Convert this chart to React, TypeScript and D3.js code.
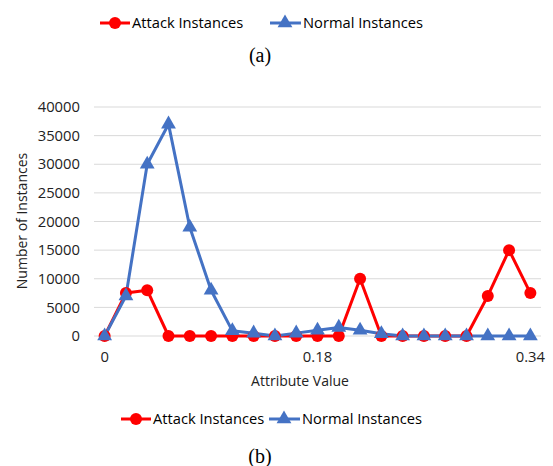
import React from "react";
import * as d3 from "d3";

const W = 553;
const H = 466;

// 21 bins on the attribute axis; only three of them carry a label
const bins = d3.range(21);
const tickIdx = [0, 10, 20];
const tickLabels = ["0", "0.18", "0.34"];

const attack = [0, 7500, 8000, 0, 0, 0, 0, 0, 0, 0, 0, 0, 10000, 0, 0, 0, 0, 0, 7000, 15000, 7500];
const normal = [0, 7000, 30000, 37000, 19000, 8000, 900, 500, 0, 500, 1000, 1500, 1000, 400, 0, 0, 0, 0, 0, 0, 0];

const yTicks = [0, 5000, 10000, 15000, 20000, 25000, 30000, 35000, 40000];

const RED = "#FF0000";
const BLUE = "#4472C4";
const FONT = "'Open Sans', sans-serif";
const SERIF = "'Liberation Serif', serif";
const TEXT = "#222";

const margin = { left: 94, right: 12, top: 107, bottom: 130 };

const triangle = d3.symbol(d3.symbolTriangle, 95)()!;

const Legend = ({ x, y, gap }: { x: number; y: number; gap: number }) => (
  <g transform={`translate(${x},${y})`} fontFamily={FONT} fontSize={14.7} fill="#000">
    <line x1={0} x2={30} y1={0} y2={0} stroke={RED} strokeWidth={3} />
    <circle cx={15} cy={0} r={6} fill={RED} />
    <text x={32} dy="0.35em">Attack Instances</text>
    <g transform={`translate(${gap},0)`}>
      <line x1={0} x2={31} y1={0} y2={0} stroke={BLUE} strokeWidth={3} />
      <path d={triangle} transform="translate(15,0)" fill={BLUE} />
      <text x={33} dy="0.35em">Normal Instances</text>
    </g>
  </g>
);

export default function App() {
  const x = d3
    .scalePoint<number>()
    .domain(bins)
    .range([margin.left, W - margin.right])
    .padding(0.5);
  const y = d3
    .scaleLinear()
    .domain([0, 40000])
    .range([H - margin.bottom, margin.top]);

  const line = d3
    .line<number>()
    .x((_, i) => x(i)!)
    .y((d) => y(d));

  return (
    <svg
      width={W}
      height={H}
      style={{ position: "absolute", left: 0, top: 0, background: "#fff" }}
    >
      <Legend x={100} y={23} gap={170} />
      <text x={260} y={55} dy="0.35em" textAnchor="middle" fontFamily={SERIF} fontSize={20}>
        (a)
      </text>

      <g>
        {yTicks.map((t) => (
          <line
            key={t}
            x1={margin.left}
            x2={W - margin.right}
            y1={y(t)}
            y2={y(t)}
            stroke="#D9D9D9"
            strokeWidth={1}
          />
        ))}
      </g>
      <g fontFamily={FONT} fontSize={14.8} fill={TEXT}>
        {yTicks.map((t) => (
          <text key={t} x={80} y={y(t)} dy="0.35em" textAnchor="end">
            {t}
          </text>
        ))}
        {tickIdx.map((i, k) => (
          <text key={i} x={x(i)} y={357} dy="0.35em" textAnchor="middle">
            {tickLabels[k]}
          </text>
        ))}
        <text x={300} y={381} dy="0.35em" textAnchor="middle" fontSize={14}>
          Attribute Value
        </text>
        <text
          transform={`translate(22,${221}) rotate(-90)`}
          dy="0.35em"
          textAnchor="middle"
          fontSize={14}
        >
          Number of Instances
        </text>
      </g>

      <path d={line(attack)!} fill="none" stroke={RED} strokeWidth={3} strokeLinejoin="round" />
      <path d={line(normal)!} fill="none" stroke={BLUE} strokeWidth={3} strokeLinejoin="round" />
      {attack.map((d, i) => (
        <circle key={`a${i}`} cx={x(i)} cy={y(d)} r={6} fill={RED} />
      ))}
      {normal.map((d, i) => (
        <path key={`n${i}`} d={triangle} transform={`translate(${x(i)},${y(d)})`} fill={BLUE} />
      ))}

      <Legend x={121} y={419} gap={148} />
      <text x={260} y={456} dy="0.35em" textAnchor="middle" fontFamily={SERIF} fontSize={20}>
        (b)
      </text>
    </svg>
  );
}
